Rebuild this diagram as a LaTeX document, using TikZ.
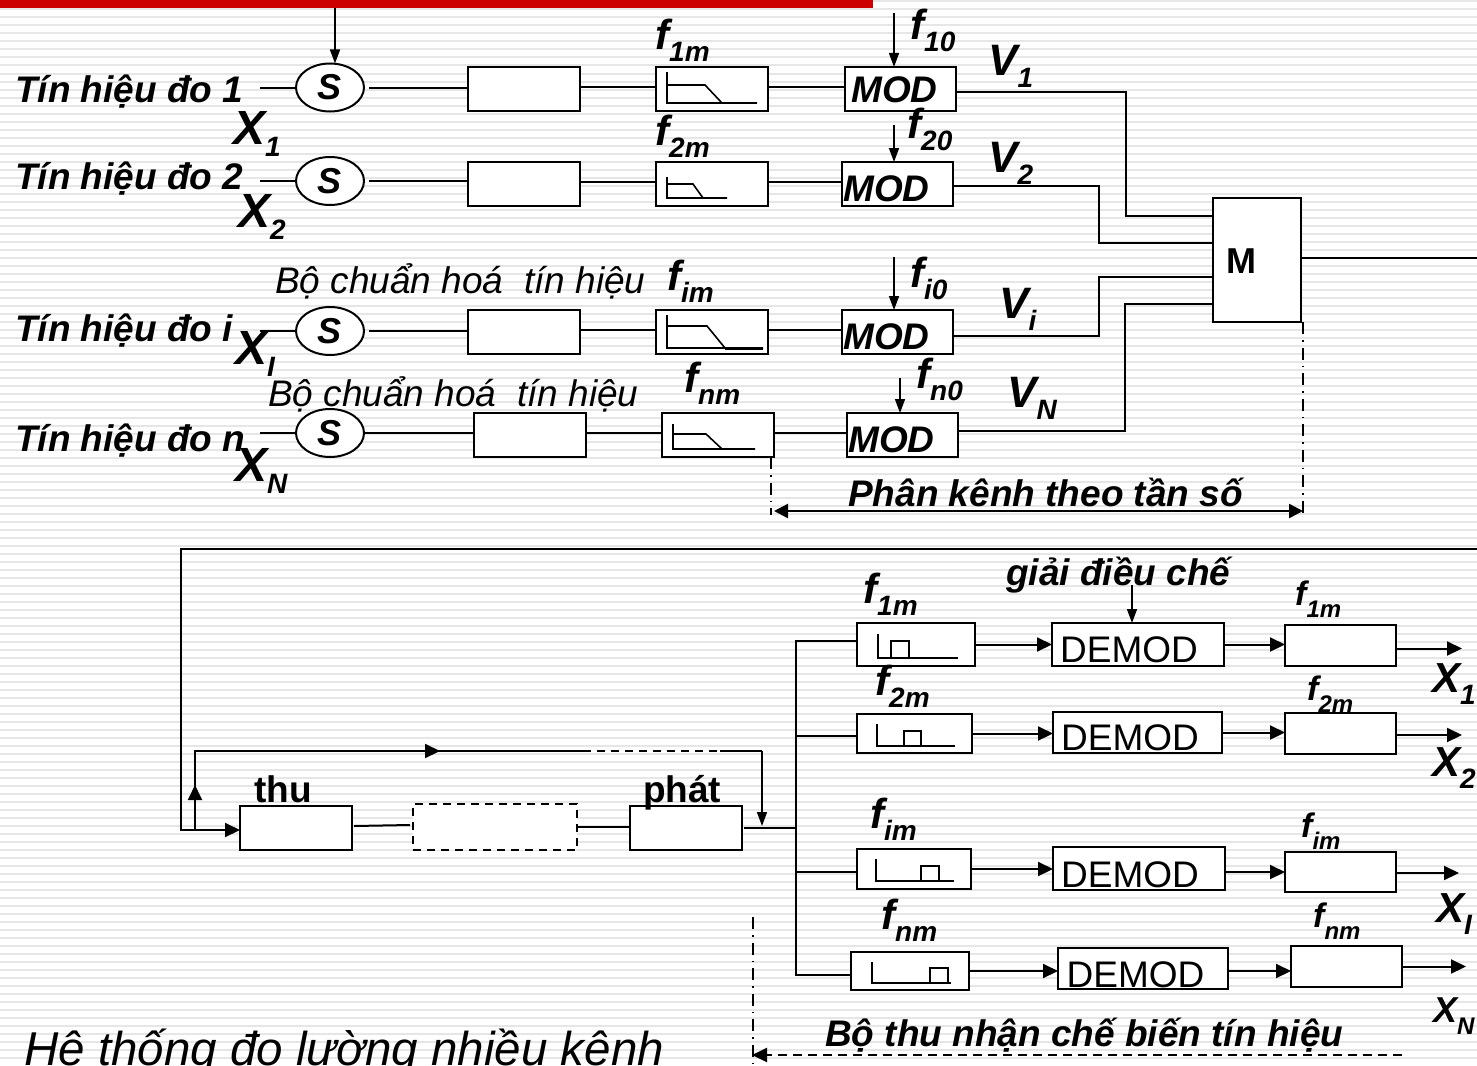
\documentclass[tikz,border=0pt]{standalone}
\usepackage{fontspec}
\setmainfont{Liberation Sans}
\usetikzlibrary{arrows.meta,positioning,shapes.geometric}
\definecolor{barred}{HTML}{CC0000}
\definecolor{stripegray}{HTML}{E6E6E6}
\newcommand{\sized}[1]{\fontsize{#1}{#1}\selectfont}
\newcommand{\symsub}[4]{{\sized{#1}#2}\raisebox{-12pt}{\sized{#3}#4}}
\newcommand{\shifted}[3]{\raisebox{-#2pt}[26pt][0pt]{#3}\kern#1pt}
\tikzset{
  stage/.style={rectangle,draw=black,line width=2pt,fill=white,outer sep=0pt,inner sep=0pt,minimum width=112pt,minimum height=44pt},
  modbox/.style={stage,minimum width=111pt,font=\sized{37}\bfseries\itshape},
  demodbox/.style={stage,minimum width=172pt,minimum height=43pt,font=\sized{37}},
  outbox/.style={stage,minimum width=111pt,minimum height=41pt},
  sumnode/.style={ellipse,draw=black,line width=2pt,fill=white,outer sep=0pt,inner sep=0pt,minimum width=68pt,minimum height=48pt,font=\sized{36}\bfseries\itshape},
  wire/.style={line width=2pt},
  glyph/.style={line width=1.6pt},
  arrow/.style={-{Stealth[length=14pt,width=10pt,inset=0pt]},line width=1.6pt},
  boldarrow/.style={-{Stealth[length=15pt,width=14pt,inset=0pt]},line width=2pt},
  dimline/.style={line width=1.2pt,dash pattern=on 12pt off 6pt on 1.5pt off 6pt},
  longdash/.style={dash pattern=on 8pt off 6pt},
  sigtext/.style={anchor=base west,inner sep=0pt,font=\sized{37}\bfseries\itshape},
  notetext/.style={anchor=base west,inner sep=0pt,font=\sized{37}\itshape}
}
\begin{document}
\begin{tikzpicture}[x=1pt,y=-1pt]
  \useasboundingbox (0,0) rectangle (1477,1065);
  % striped page
  \foreach \ypos in {1.5,9.5,...,1065} {
    \draw[stripegray,line width=2pt] (0,\ypos) -- (1477,\ypos);
  }
  \fill[barred] (0,0) rectangle (873,8);

  % sending side
  \node[sumnode] (s1) at (330,87.5) {S};
  \node[stage] (norm1) at (524,89) {};
  \node[stage,right=76pt of norm1] (lpf1) {};
  \node[modbox,right=77pt of lpf1] (mod1) {\shifted{12}{1}{MOD}};
  \node[sumnode] (s2) at (330,181) {S};
  \node[stage] (norm2) at (524,184) {};
  \node[stage,right=76pt of norm2] (lpf2) {};
  \node[modbox,right=74pt of lpf2] (mod2) {\shifted{22}{4}{MOD}};
  \node[sumnode] (si) at (330,331) {S};
  \node[stage] (normi) at (524,332) {};
  \node[stage,right=76pt of normi] (lpfi) {};
  \node[modbox,right=74pt of lpfi] (modi) {\shifted{22}{4}{MOD}};
  \node[sumnode] (sn) at (330,433) {S};
  \node[stage] (normn) at (530,435) {};
  \node[stage,right=76pt of normn] (lpfn) {};
  \node[modbox,right=73pt of lpfn] (modn) {\shifted{22}{4}{MOD}};
  \node[stage,minimum width=88pt,minimum height=124pt,font=\sized{36}\bfseries] (mux) at (1257,260) {\shifted{31}{0}{M}};

  % free ends
  \coordinate (in1) at (260,87.5);
  \coordinate (in2) at (260,181);
  \coordinate (ini) at (260,331);
  \coordinate (inn) at (260,433);
  \coordinate (top1) at (335,8);
  \coordinate (f10in) at (894,13);
  \coordinate (f20in) at (894,125);
  \coordinate (fi0in) at (894,257);
  \coordinate (fn0in) at (900,378);
  \coordinate (muxa) at (1213,216);
  \coordinate (muxb) at (1213,243);
  \coordinate (muxc) at (1213,277);
  \coordinate (muxd) at (1213,304);
  \coordinate (muxout) at (1477,258);

  \draw[wire] (in1) -- (s1.west);
  \draw[wire] (in2) -- (s2.west);
  \draw[wire] (ini) -- (si.west);
  \draw[wire] (inn) -- (sn.west);
  \draw[arrow] (top1) -- (top1 |- s1.north);
  \draw[wire] ([xshift=5pt]s1.east) -- (s1.east -| norm1.west);
  \draw[wire] ([xshift=5pt]s2.east) -- (s2.east -| norm2.west);
  \draw[wire] ([xshift=5pt]si.east) -- (si.east -| normi.west);
  \draw[wire] (sn.east) -- (sn.east -| normn.west);
  \draw[wire] ([yshift=2pt]norm1.east) -- ([yshift=2pt]lpf1.west);
  \draw[wire] ([yshift=2pt]lpf1.east) -- ([yshift=2pt]mod1.west);
  \draw[wire] ([yshift=2pt]norm2.east) -- ([yshift=2pt]lpf2.west);
  \draw[wire] ([yshift=2pt]lpf2.east) -- ([yshift=2pt]mod2.west);
  \draw[wire] ([yshift=2pt]normi.east) -- ([yshift=2pt]lpfi.west);
  \draw[wire] ([yshift=2pt]lpfi.east) -- ([yshift=2pt]modi.west);
  \draw[wire] ([yshift=2pt]normn.east) -- ([yshift=2pt]lpfn.west);
  \draw[wire] ([yshift=2pt]lpfn.east) -- ([yshift=2pt]modn.west);
  \draw[arrow] (f10in) -- (f10in |- mod1.north);
  \draw[arrow] (f20in) -- (f20in |- mod2.north);
  \draw[arrow] (fi0in) -- (fi0in |- modi.north);
  \draw[arrow] (fn0in) -- (fn0in |- modn.north);
  \draw[wire] ([yshift=-3pt]mod1.east) -- ++(170,0) |- (muxa);
  \draw[wire] ([yshift=-2pt]mod2.east) -- ++(146,0) |- (muxb);
  \draw[wire] ([yshift=-4pt]modi.east) -- ++(146,0) |- (muxc);
  \draw[wire] ([yshift=4pt]modn.east) -- ++(167,0) |- (muxd);
  \draw[wire] (mux.east |- muxout) -- (muxout);

  % filter curves
  \draw[glyph] (667,72) -- (667,103) -- (757,103) (667,85) -- (705,85) -- (722,103);
  \draw[glyph] (667,177) -- (667,198) -- (727,198) (667,184) -- (693,184) -- (703,198);
  \draw[glyph] (667,315) -- (667,348) -- (763,348) (667,326) -- (707,326) -- (725,348);
  \draw[line width=3pt] (725,348) -- (763,348);
  \draw[glyph] (673,424) -- (673,449) -- (755,449) (673,434) -- (706,434) -- (722,449);

  % extent of the channel part
  \coordinate (dimla) at (771,515);
  \coordinate (dimra) at (1303,515);
  \coordinate (diml) at (774,511);
  \coordinate (dimr) at (1303,511);
  \draw[dimline] ([xshift=-3pt]lpfn.south east) -- (dimla);
  \draw[dimline] ([xshift=2pt]mux.south east) -- (dimra);
  \draw[{Stealth[length=14pt,width=14pt,inset=0pt]}-{Stealth[length=14pt,width=14pt,inset=0pt]},line width=2.4pt] (diml) -- (dimr);

  % labels of the sending side
  \node[sigtext] (tin1) at (15,102) {Tín hiệu đo 1};
  \node[sigtext] (tin2) at (15,189) {Tín hiệu đo 2};
  \node[sigtext] (tini) at (15,341) {Tín hiệu đo i};
  \node[sigtext] (tinn) at (15,451) {Tín hiệu đo n};
  \node[sigtext] (xa) at (233,144) {\symsub{48}{X}{28}{1}};
  \node[sigtext] (xb) at (238,227) {\symsub{48}{X}{28}{2}};
  \node[sigtext] (xc) at (235,364) {\symsub{48}{X}{28}{I}};
  \node[sigtext] (xd) at (235,481) {\symsub{48}{X}{28}{N}};
  \node[sigtext] (f1m) at (655,50) {\symsub{42}{f}{28}{1m}};
  \node[sigtext] (f2m) at (655,145) {\symsub{42}{f}{28}{2m}};
  \node[sigtext] (fim) at (667,290) {\symsub{42}{f}{28}{im}};
  \node[sigtext] (fnm) at (684,392) {\symsub{42}{f}{28}{nm}};
  \node[sigtext] (f10) at (910,40) {\symsub{42}{f}{28}{10}};
  \node[sigtext] (f20) at (907,138) {\symsub{42}{f}{28}{20}};
  \node[sigtext] (fi0) at (910,287) {\symsub{42}{f}{28}{i0}};
  \node[sigtext] (fn0) at (916,388) {\symsub{42}{f}{28}{n0}};
  \node[sigtext] (v1) at (988,75) {\symsub{44}{V}{28}{1}};
  \node[sigtext] (v2) at (988,172) {\symsub{44}{V}{28}{2}};
  \node[sigtext] (vi) at (999,318) {\symsub{44}{V}{28}{i}};
  \node[sigtext] (vn) at (1007,407) {\symsub{44}{V}{28}{N}};
  \node[notetext] (chuan1) at (275,293) {Bộ chuẩn hoá\ \ tín hiệu};
  \node[notetext] (chuan2) at (268,406) {Bộ chuẩn hoá\ \ tín hiệu};
  \node[sigtext] (phankenh) at (848,506) {Phân kênh theo tần số};

  % link
  \node[stage] (thu) at (296,828) {};
  \node[stage,longdash,minimum width=164pt,minimum height=46pt] (relay) at (495,827) {};
  \node[stage] (phat) at (685.5,828) {};
  \coordinate (lnkr) at (1477,549);
  \coordinate (lnkl) at (181,549);
  \coordinate (upa) at (195,830);
  \coordinate (upb) at (195,785);
  \coordinate (upc) at (195,751);
  \coordinate (midl) at (360,751);
  \coordinate (midr) at (440,751);
  \coordinate (dasha) at (583,751);
  \coordinate (dashb) at (720,751);
  \coordinate (downa) at (762,751);
  \coordinate (downb) at (762,826);
  \draw[boldarrow] (lnkr) -- (lnkl) |- ([yshift=-2pt]thu.west);
  \draw[boldarrow] (upa) -- (upb);
  \draw[wire] (upa) -- (upc) -- (dasha);
  \draw[boldarrow] (midl) -- (midr);
  \draw[wire,longdash] (dasha) -- (dashb);
  \draw[wire] (dashb) -- (downa);
  \draw[arrow] (downa) -- (downb);
  \draw[wire] ([xshift=2pt,yshift=2pt]thu.east) -- ([xshift=-3pt,yshift=2pt]relay.west);
  \draw[wire] (relay.east) -- (relay.east -| phat.west);
  \node[sigtext,font=\sized{37}\bfseries] (thulbl) at (254,802) {thu};
  \node[sigtext,font=\sized{37}\bfseries] (phatlbl) at (643,802) {phát};

  % receiving side
  \node[stage,minimum width=118pt,minimum height=43pt] (bpf1) at (916,644.5) {};
  \node[demodbox,right=77pt of bpf1] (dem1) {\shifted{18}{5}{DEMOD}};
  \node[outbox] (out1) at (1340.5,645.5) {};
  \node[stage,minimum width=115pt,minimum height=39pt] (bpf2) at (914.5,733.5) {};
  \node[demodbox,minimum width=169pt,minimum height=41pt] (dem2) at (1137.5,732.5) {\shifted{15}{5}{DEMOD}};
  \node[outbox] (out2) at (1340.5,733.5) {};
  \node[stage,minimum width=114pt,minimum height=40pt] (bpfi) at (914,869) {};
  \node[demodbox] (demi) at (1139,868.5) {\shifted{18}{6}{DEMOD}};
  \node[outbox,minimum height=40pt] (outi) at (1340.5,872) {};
  \node[stage,minimum width=118pt,minimum height=38pt] (bpfn) at (910,971) {};
  \node[demodbox,minimum width=170pt,minimum height=41pt] (demn) at (1143,968.5) {\shifted{15}{6}{DEMOD}};
  \node[outbox] (outn) at (1346.5,966.5) {};

  \coordinate (bus1) at (796,641);
  \coordinate (bus2) at (796,736);
  \coordinate (bus3) at (796,872);
  \coordinate (bus4) at (796,975);
  \coordinate (buslink) at (796,828);
  \coordinate (demin) at (1132,585);
  \coordinate (x1end) at (1462,648.5);
  \coordinate (x2end) at (1462,735);
  \coordinate (xiend) at (1459,873);
  \coordinate (xnend) at (1466,966.5);
  \draw[wire] ([xshift=2pt]phat.east) -- (buslink);
  \draw[wire] (bus1 -| bpf1.west) -- (bus1) -- (bus4) -- (bus4 -| bpfn.west);
  \draw[wire] (bus2) -- (bus2 -| bpf2.west);
  \draw[wire] (bus3) -- (bus3 -| bpfi.west);
  \draw[arrow] (demin) -- (demin |- dem1.north);
  \draw[boldarrow] (bpf1.east) -- (dem1.west);
  \draw[boldarrow] (dem1.east) -- (dem1.east -| out1.west);
  \draw[boldarrow] ([yshift=-3pt]out1.east) -- (x1end);
  \draw[boldarrow] (bpf2.east) -- (bpf2.east -| dem2.west);
  \draw[boldarrow] (dem2.east) -- (dem2.east -| out2.west);
  \draw[boldarrow] ([yshift=-1.5pt]out2.east) -- (x2end);
  \draw[boldarrow] (bpfi.east) -- (bpfi.east -| demi.west);
  \draw[boldarrow] (demi.east |- outi.west) -- (outi.west);
  \draw[boldarrow] ([yshift=-1pt]outi.east) -- (xiend);
  \draw[boldarrow] (bpfn.east) -- (bpfn.east -| demn.west);
  \draw[boldarrow] (demn.east |- bpfn.east) -- (outn.west |- bpfn.east);
  \draw[boldarrow] (outn.east) -- (xnend);

  % pass band curves
  \draw[glyph] (878,634) -- (878,658) -- (958,658) (891,658) |- (909,641) -- (909,658);
  \draw[glyph] (877,724) -- (877,746) -- (955,746) (904,746) |- (921,731) -- (921,746);
  \draw[glyph] (876,859) -- (876,881) -- (954,881) (921,881) |- (939,866) -- (939,881);
  \draw[glyph] (872,962) -- (872,983) -- (951,983) (930,983) |- (948,968) -- (948,983);

  % extent of the receiver part
  \coordinate (dimta) at (753,917);
  \coordinate (dimtb) at (753,1065);
  \coordinate (dasl) at (752,1055);
  \coordinate (dasr) at (1402,1055);
  \draw[dimline] (dimta) -- (dimtb);
  \draw[boldarrow,dash pattern=on 9pt off 6pt] (dasr) -- (dasl);

  % labels of the receiving side
  \node[sigtext] (giai) at (1006,585) {giải điều chế};
  \node[sigtext] (lf1) at (863,603) {\symsub{42}{f}{28}{1m}};
  \node[sigtext] (lf2) at (875,695) {\symsub{42}{f}{28}{2m}};
  \node[sigtext] (lfi) at (870,828) {\symsub{42}{f}{28}{im}};
  \node[sigtext] (lfn) at (881,929) {\symsub{42}{f}{28}{nm}};
  \node[sigtext] (rf1) at (1295,605) {\symsub{34}{f}{24}{1m}};
  \node[sigtext] (rf2) at (1307,700) {\symsub{34}{f}{24}{2m}};
  \node[sigtext] (rfi) at (1301,837) {\symsub{34}{f}{24}{im}};
  \node[sigtext] (rfn) at (1313,927) {\symsub{34}{f}{24}{nm}};
  \node[sigtext] (xo1) at (1432,692) {\symsub{42}{X}{28}{1}};
  \node[sigtext] (xo2) at (1432,776) {\symsub{42}{X}{28}{2}};
  \node[sigtext] (xoi) at (1436,922) {\symsub{42}{X}{28}{I}};
  \node[sigtext] (xon) at (1433,1022) {\symsub{36}{X}{24}{N}};
  \node[sigtext] (bothu) at (825,1046) {Bộ thu nhận chế biến tín hiệu};
  \node[notetext,font=\sized{47.5}\itshape] (title) at (24,1065) {Hệ thống đo lường nhiều kênh};
\end{tikzpicture}
\end{document}
